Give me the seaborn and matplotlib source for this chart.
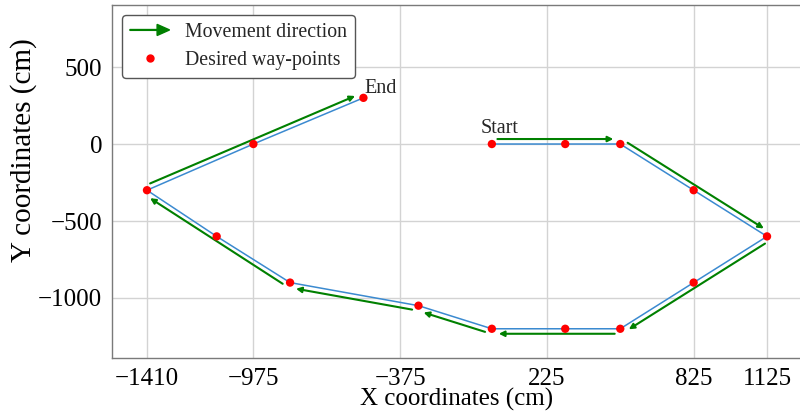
import numpy as np
import pandas as pd
import matplotlib
matplotlib.use("Agg")
import matplotlib.pyplot as plt
import matplotlib.patches as mpatches
import matplotlib.transforms as mtransforms
from matplotlib.lines import Line2D
from matplotlib.legend_handler import HandlerPatch
import seaborn as sns

# ---- data ----
way_x = [0, 300, 525, 825, 1125, 825, 525, 300, 0, -300, -825, -1125, -1410, -975, -525]
way_y = [0, 0, 0, -300, -600, -900, -1200, -1200, -1200, -1050, -900, -600, -300, 0, 300]
corner_idx = [0, 2, 4, 6, 8, 9, 10, 12, 14]
x_ticks = [-1410, -975, -375, 225, 825, 1125]
y_ticks = [-1000, -500, 0, 500]

sns.set_theme(style="whitegrid")
plt.rcParams["font.family"] = ["Liberation Serif", "DejaVu Serif"]
plt.rcParams["axes.unicode_minus"] = True

fig = plt.figure(figsize=(8, 4.18), dpi=100)
ax = fig.add_axes([0.14, 0.1435, 0.8625, 0.8445])

df = pd.DataFrame({"x": way_x, "y": way_y})
sns.lineplot(data=df, x="x", y="y", sort=False, estimator=None, ax=ax,
             color="#3b8ad0", lw=1.1, zorder=2)
sns.scatterplot(data=df, x="x", y="y", ax=ax, color="red", s=36,
                edgecolor="none", zorder=4)

ax.set_xlim(-1553, 1268)
ax.set_ylim(-1390, 903)
ax.set_xticks(x_ticks)
ax.set_yticks(y_ticks)
ax.grid(True, color="#d3d3d3", lw=1)
for s in ax.spines.values():
    s.set_color("#7a7a7a")
    s.set_linewidth(1.0)
ax.tick_params(axis="both", labelsize=18, length=4, color="#7a7a7a",
               pad=3, labelcolor="black")
ax.set_xlabel("X coordinates (cm)", fontsize=18, labelpad=-1, color="black")
ax.set_ylabel("Y coordinates (cm)", fontsize=21, color="black")
ax.yaxis.set_label_coords(-0.108, 0.59)

# movement arrows, offset to the left side of travel direction
fig.canvas.draw()
pts = np.column_stack([way_x, way_y]).astype(float)
disp = ax.transData.transform(pts)
off_in = 0.05
for a, b in zip(corner_idx[:-1], corner_idx[1:]):
    d = disp[b] - disp[a]
    d = d / np.hypot(*d)
    n = np.array([-d[1], d[0]])
    tr = ax.transData + mtransforms.ScaledTranslation(n[0] * off_in, n[1] * off_in,
                                                      fig.dpi_scale_trans)
    ax.annotate("", xy=(way_x[b], way_y[b]), xytext=(way_x[a], way_y[a]),
                xycoords=tr, textcoords=tr,
                arrowprops=dict(arrowstyle="-|>", color="green", lw=1.5,
                                mutation_scale=8, shrinkA=4, shrinkB=5),
                zorder=3)

ax.annotate("Start", xy=(way_x[0], way_y[0]), xytext=(-8, 4),
            textcoords="offset points", ha="left", va="bottom", fontsize=14.5)
ax.annotate("End", xy=(way_x[-1], way_y[-1]), xytext=(1, 0),
            textcoords="offset points", ha="left", va="bottom", fontsize=14.5)

# legend
def make_arrow(legend, orig_handle, xdescent, ydescent, width, height, fontsize):
    return mpatches.FancyArrow(0, 0.5 * height, width, 0, width=0.6,
                               length_includes_head=True, head_width=8,
                               head_length=9, color="green")

arrow_handle = mpatches.FancyArrow(0, 0, 1, 0, color="green")
dot_handle = Line2D([], [], ls="none", marker="o", color="red", markersize=5)
leg = ax.legend([arrow_handle, dot_handle],
                ["Movement direction", "Desired way-points"],
                handler_map={mpatches.FancyArrow: HandlerPatch(patch_func=make_arrow)},
                loc="upper left", fontsize=14.3, frameon=True, fancybox=True,
                edgecolor="#555555", framealpha=1, borderaxespad=0.5,
                handlelength=2.0, labelspacing=0.45)
leg.get_frame().set_linewidth(1.0)

fig.savefig("out.png", dpi=100)
